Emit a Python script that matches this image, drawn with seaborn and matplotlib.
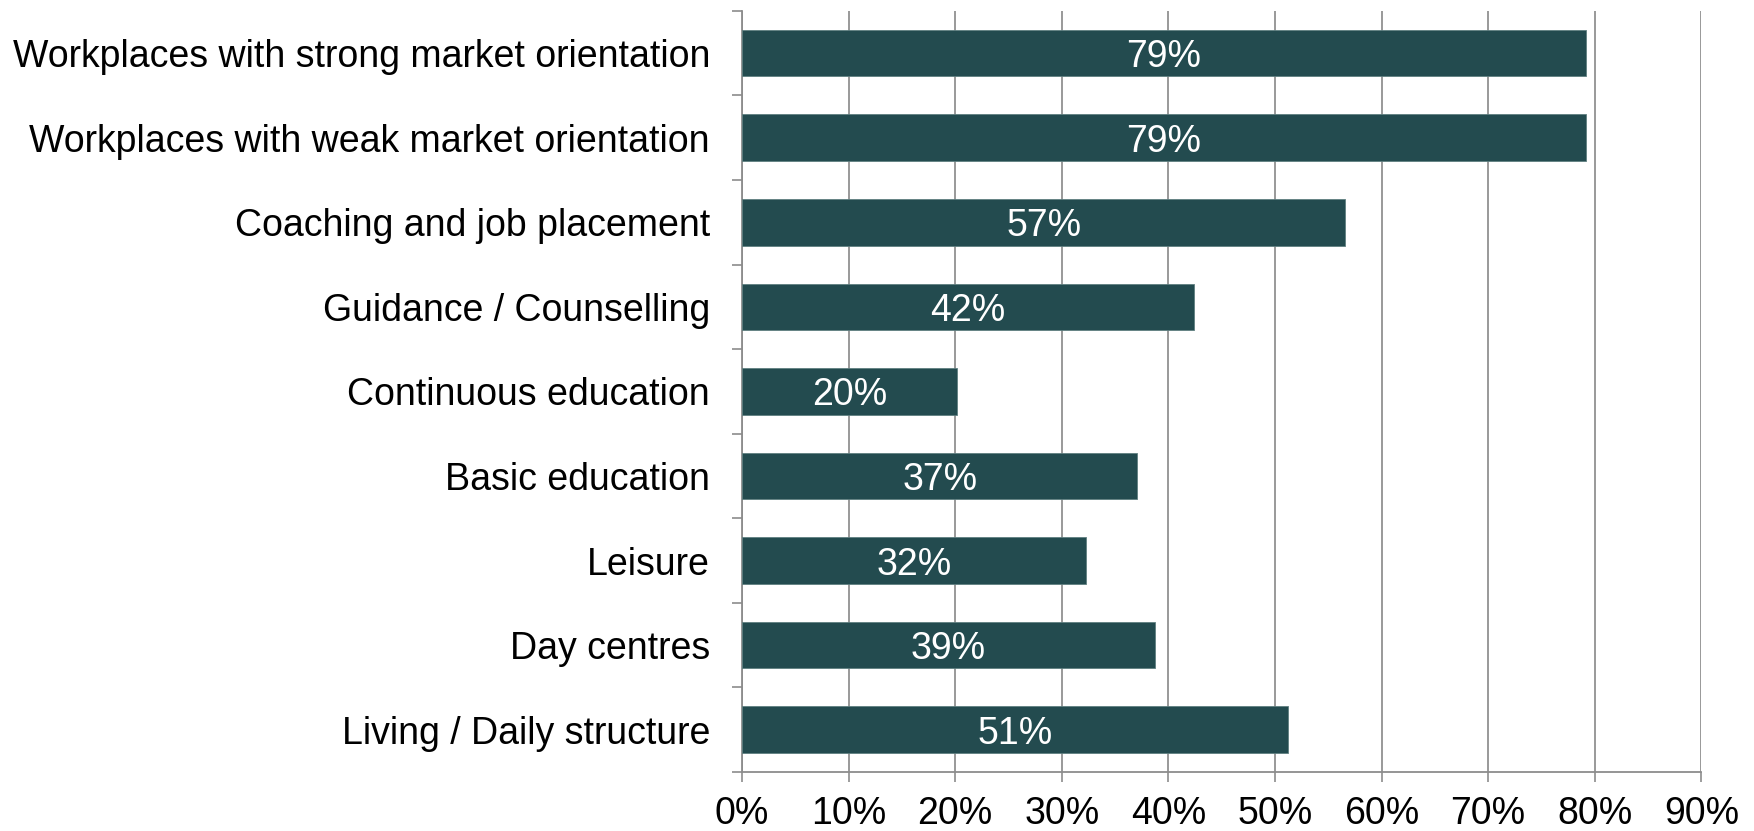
import matplotlib
matplotlib.use("Agg")
import matplotlib.pyplot as plt
import seaborn as sns
import pandas as pd
import numpy as np

categories = [
    "Workplaces with strong market orientation",
    "Workplaces with weak market orientation",
    "Coaching and job placement",
    "Guidance / Counselling",
    "Continuous education",
    "Basic education",
    "Leisure",
    "Day centres",
    "Living / Daily structure",
]
values = [79.2, 79.2, 56.6, 42.4, 20.2, 37.1, 32.3, 38.7, 51.2]
labels = ["79%", "79%", "57%", "42%", "20%", "37%", "32%", "39%", "51%"]
xticks = [0, 10, 20, 30, 40, 50, 60, 70, 80, 90]

sns.set_theme(style="white")
plt.rcParams['font.family'] = ['Liberation Sans', 'DejaVu Sans']

df = pd.DataFrame({"cat": categories, "val": values})
fig = plt.figure(figsize=(17.54, 8.31), dpi=100)
ax = fig.add_axes([0.423, 0.071, 0.547, 0.916])

bar_color = "#234B4F"
sns.barplot(data=df, x="val", y="cat", orient="h", color=bar_color,
            width=0.55, saturation=1, ax=ax, zorder=3,
            edgecolor="#5f7f80", linewidth=0.6)

FS = 27
ax.set_xlim(0, 90)
ax.set_ylim(len(categories) - 0.5, -0.5)
ax.set_xticks(xticks)
ax.set_xticklabels([f"{t}%" for t in xticks])
ax.set_xlabel("")
ax.set_ylabel("")
ax.tick_params(axis="y", which="major", left=False, length=0, labelsize=FS, pad=23, labelcolor="black")
ax.set_yticks(np.arange(-0.5, len(categories), 1.0), minor=True)
ax.tick_params(axis="y", which="minor", left=True, length=7, width=1.2, color="#8c8c8c", direction="out")
ax.tick_params(axis="x", which="major", bottom=True, length=7, width=1.2, color="#8c8c8c",
               direction="out", pad=10, labelsize=FS, labelcolor="black")
for s in ["top", "right"]:
    ax.spines[s].set_visible(False)
for s in ["left", "bottom"]:
    ax.spines[s].set_color("#8c8c8c")
    ax.spines[s].set_linewidth(1.3)
ax.grid(axis="x", color="#999999", linewidth=1.4, zorder=0)
ax.set_axisbelow(True)

for i, (v, lab) in enumerate(zip(values, labels)):
    ax.text(v / 2, i, lab, color="white", ha="center", va="center_baseline", fontsize=FS, zorder=4)

fig.savefig("out.png", dpi=100, facecolor="white")
